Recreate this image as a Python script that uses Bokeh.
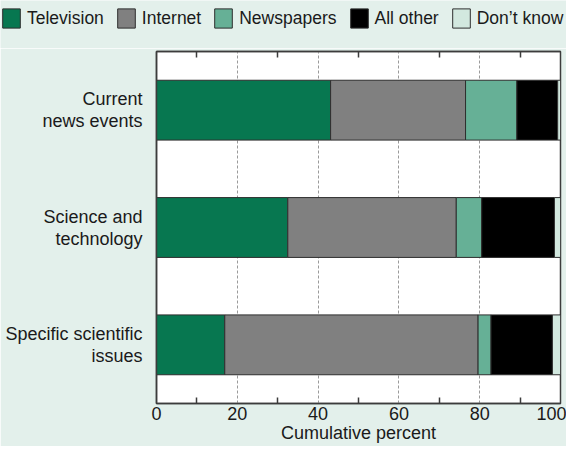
from bokeh.plotting import figure
from bokeh.layouts import column
from bokeh.models import (FactorRange, Range1d, LinearAxis, FixedTicker, Legend,
                          LegendItem, ColumnDataSource)
from bokeh.embed import file_html
from bokeh.resources import INLINE

categories = ["Current\nnews events", "Science and\ntechnology", "Specific scientific\nissues"]
television = [43.1, 32.5, 16.9]
internet = [33.4, 41.7, 62.7]
newspapers = [12.7, 6.3, 3.2]
all_other = [10.1, 18.0, 15.2]
dont_know = [0.7, 1.5, 2.0]
series_keys = ["television", "internet", "newspapers", "all_other", "dont_know"]
series_names = ["Television", "Internet", "Newspapers", "All other", "Don\u2019t know"]
colors = ["#077750", "#808080", "#66b096", "#000000", "#d2e8df"]
x_tick_values = [0, 20, 40, 60, 80, 100]
x_minor_ticks = [10, 30, 50, 70, 90]
grid_values = [20, 40, 60, 80]
x_axis_title = "Cumulative percent"

BG = "#e3f0eb"
EDGE = "#3c3c3c"
FONT = "Liberation Sans"
TXT = "#1a1a1a"

source = ColumnDataSource(dict(cat=categories, television=television, internet=internet,
                               newspapers=newspapers, all_other=all_other,
                               dont_know=dont_know))

# ---------------- main chart ----------------
p = figure(width=566, height=398, output_backend="svg", toolbar_location=None,
           x_range=Range1d(0, 100), y_range=FactorRange(*reversed(categories)),
           x_axis_location=None, min_border_left=156, min_border_right=6,
           min_border_top=3, min_border_bottom=43)
p.frame_align = False
p.border_fill_color = BG
p.background_fill_color = "white"
p.outline_line_color = EDGE
p.outline_line_width = 1.5

p.hbar_stack(series_keys, y="cat", height=0.51, color=colors,
             line_color="#2e2e2e", line_width=1, source=source)

p.ygrid.grid_line_color = None
p.xgrid.ticker = FixedTicker(ticks=grid_values)
p.xgrid.grid_line_color = "#9a9a9a"
p.xgrid.grid_line_dash = "3 2"
p.xgrid.grid_line_width = 1

xb = LinearAxis(ticker=FixedTicker(ticks=x_tick_values, minor_ticks=x_minor_ticks),
                axis_label=x_axis_title)
xb.major_tick_in = 0
xb.major_tick_out = 0
xb.minor_tick_in = 6
xb.minor_tick_out = 0
xb.minor_tick_line_color = EDGE
xb.minor_tick_line_width = 1.5
xb.axis_line_color = EDGE
xb.axis_line_width = 1.5
xb.major_label_standoff = 3
xb.major_label_text_font = FONT
xb.major_label_text_font_size = "18px"
xb.major_label_text_color = TXT
xb.axis_label_standoff = 0
xb.axis_label_text_font = FONT
xb.axis_label_text_font_size = "18px"
xb.axis_label_text_font_style = "normal"
xb.axis_label_text_color = TXT
p.add_layout(xb, "below")

xt = LinearAxis(ticker=FixedTicker(ticks=x_tick_values, minor_ticks=x_minor_ticks))
xt.major_tick_in = 0
xt.major_tick_out = 0
xt.minor_tick_in = 6
xt.minor_tick_out = 0
xt.minor_tick_line_color = EDGE
xt.minor_tick_line_width = 1.5
xt.axis_line_color = EDGE
xt.axis_line_width = 1.5
xt.major_label_text_color = None
xt.major_label_text_font_size = "1px"
xt.major_label_standoff = 0
p.add_layout(xt, "above")

ya = p.yaxis[0]
ya.major_tick_line_color = None
ya.minor_tick_line_color = None
ya.axis_line_color = EDGE
ya.axis_line_width = 1.5
ya.major_label_standoff = 8
ya.major_label_text_font = FONT
ya.major_label_text_font_size = "18px"
ya.major_label_text_color = TXT
ya.major_label_text_line_height = 1.1

# ---------------- legend strip ----------------
lf = figure(width=566, height=48, output_backend="svg", toolbar_location=None,
            x_range=Range1d(0, 100), y_range=FactorRange(*reversed(categories)),
            x_axis_location=None, y_axis_location=None,
            min_border_left=0, min_border_right=0, min_border_top=0, min_border_bottom=0)
lf.frame_align = False
lf.border_fill_color = BG
lf.background_fill_color = BG
lf.outline_line_color = None
lf.xgrid.grid_line_color = None
lf.ygrid.grid_line_color = None
lrs = lf.hbar_stack(series_keys, y="cat", height=0.51, color=colors,
                    line_color="#2e2e2e", line_width=1, source=source)
for r in lrs:
    r.visible = False

items = [LegendItem(label=n, renderers=[r]) for n, r in zip(series_names, lrs)]
legend = Legend(items=items, orientation="horizontal", location=(0, 18))
legend.margin = 0
legend.padding = 0
legend.spacing = 11
legend.glyph_width = 22
legend.glyph_height = 24
legend.label_standoff = 5
legend.label_height = 24
legend.label_text_font = FONT
legend.label_text_font_size = "17.5px"
legend.label_text_color = TXT
legend.background_fill_alpha = 0
legend.border_line_color = None
legend.inactive_fill_alpha = 0
lf.add_layout(legend, "center")

layout = column(lf, p, spacing=0)
open("out.html", "w").write(file_html(layout, INLINE))
